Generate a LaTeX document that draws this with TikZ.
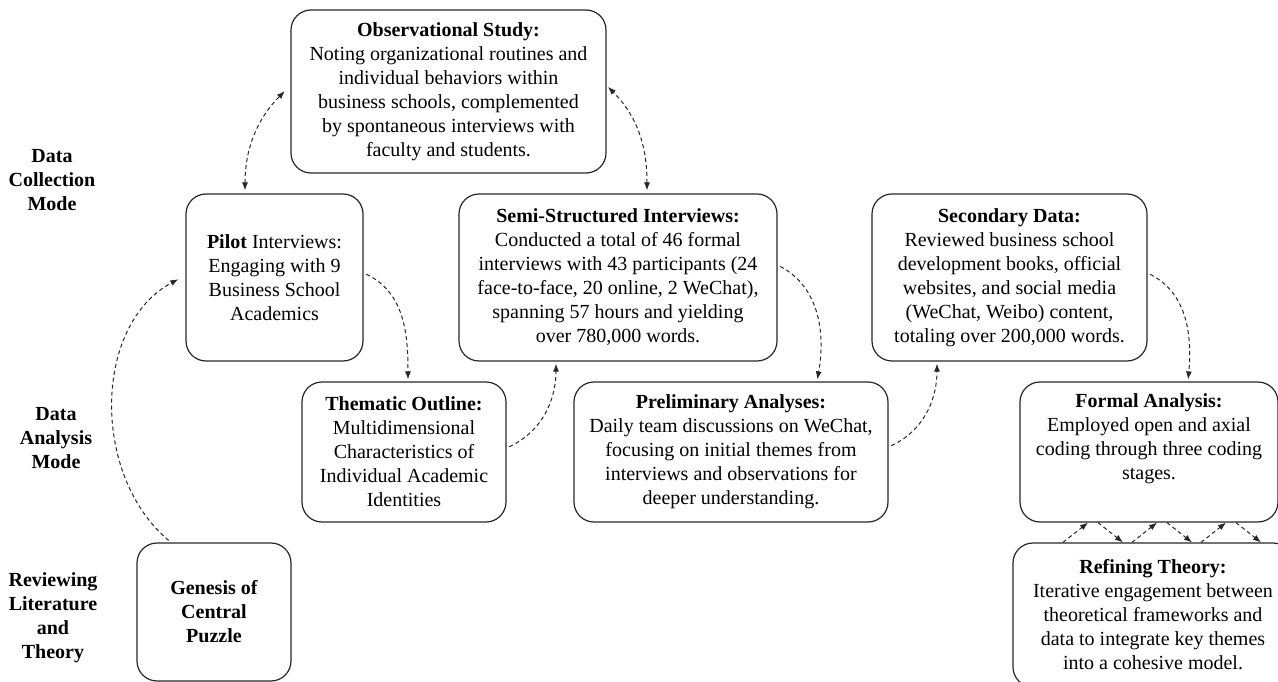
\documentclass[tikz,border=0pt]{standalone}
\usepackage{fontspec}
\setmainfont{Liberation Serif}
\usepackage{tikz}
\usetikzlibrary{positioning,arrows.meta}

\begin{document}
\begin{tikzpicture}[x=1pt,y=1pt]
\useasboundingbox (0,0) rectangle (1278,-682);
\tikzstyle{box}=[draw=black!85,rounded corners=20pt,line width=1.2pt,align=center,inner sep=4pt,font=\fontsize{20}{24}\selectfont];
\tikzstyle{mode}=[align=center,font=\fontsize{20}{24}\selectfont\bfseries];
\tikzstyle{link}=[draw=black!85,line width=1pt,dash pattern=on 4pt off 3pt,-{Latex[length=8pt,width=6pt]},shorten <=3pt,shorten >=2pt];
\tikzstyle{both}=[link,{Latex[length=8pt,width=6pt]}-{Latex[length=8pt,width=6pt]}];

\draw node[mode] (collect) at (52,-180) {Data\\Collection\\Mode};
\draw node[mode] (analyse) at (56,-438) {Data\\Analysis\\Mode};
\draw node[mode] (review) at (53,-618) {Reviewing\\Literature\\and\\Theory};

\draw node[box,minimum width=315pt,minimum height=163pt] (obs) at (448.5,-91.5) {\textbf{Observational Study:}\\Noting organizational routines and\\individual behaviors within\\business schools, complemented\\by spontaneous interviews with\\faculty and students.};
\draw node[box,minimum width=177pt,minimum height=167pt] (pilot) at (274.5,-277.5) {\textbf{Pilot} Interviews:\\Engaging with 9\\Business School\\Academics};
\draw node[box,minimum width=318pt,minimum height=167pt] (semi) at (618,-277.5) {\textbf{Semi-Structured Interviews:}\\Conducted a total of 46 formal\\interviews with 43 participants (24\\face-to-face, 20 online, 2 WeChat),\\spanning 57 hours and yielding\\over 780,000 words.};
\draw node[box,minimum width=275pt,minimum height=167pt] (sec) at (1009.5,-277.5) {\textbf{Secondary Data:}\\Reviewed business school\\development books, official\\websites, and social media\\(WeChat, Weibo) content,\\totaling over 200,000 words.};
\draw node[box,minimum width=204pt,minimum height=140pt] (them) at (404,-452) {\textbf{Thematic Outline:}\\Multidimensional\\Characteristics of\\Individual Academic\\Identities};
\draw node[box,minimum width=314pt,minimum height=140pt] (prel) at (731,-452) {\textbf{Preliminary Analyses:}\\Daily team discussions on WeChat,\\focusing on initial themes from\\interviews and observations for\\deeper understanding.};
\draw node[box,minimum width=258pt,minimum height=140pt] (fa) at (1149,-452) {\textbf{Formal Analysis:}\\Employed open and axial\\coding through three coding\\stages.\\\strut};
\draw node[box,minimum width=154pt,minimum height=138pt] (gen) at (214,-612) {\textbf{Genesis of}\\\textbf{Central}\\\textbf{Puzzle}};
\draw node[box,minimum width=280pt,minimum height=144pt] (ref) at (1153,-615) {\textbf{Refining Theory:}\\Iterative engagement between\\theoretical frameworks and\\data to integrate key themes\\into a cohesive model.};

\draw[both,shorten >=8pt] ([xshift=-29.5pt]pilot.north) to[out=90,in=225] ([yshift=6pt]obs.west);
\draw[both] ([xshift=29pt]semi.north) to[out=90,in=-45] ([yshift=6pt]obs.east);
\draw[link,shorten >=8pt] ([xshift=-43pt]gen.north) to[out=140,in=208] ([yshift=2pt]pilot.west);
\draw[link] ([yshift=4.5pt]pilot.east) to[out=-25,in=90] ([xshift=4pt]them.north);
\draw[link] ([yshift=4pt]them.east) to[out=25,in=-90] ([xshift=-62pt]semi.south);
\draw[link] ([yshift=12.5pt]semi.east) to[out=-28,in=80] ([xshift=86pt]prel.north);
\draw[link] ([yshift=5pt]prel.east) to[out=25,in=-90] ([xshift=-72.5pt]sec.south);
\draw[link] ([yshift=4.5pt]sec.east) to[out=-27,in=85] ([xshift=39pt]fa.north);

\foreach \i in {0,1,2} {
  \draw[link,shorten <=0pt,shorten >=0pt] ([xshift={(-90+69*\i)*1pt}]ref.north) -- ([xshift={(-61+69*\i)*1pt}]fa.south);
  \draw[link,shorten <=0pt,shorten >=0pt] ([xshift={(-51+69*\i)*1pt}]fa.south) -- ([xshift={(-30+69*\i)*1pt}]ref.north);
}
\end{tikzpicture}
\end{document}
